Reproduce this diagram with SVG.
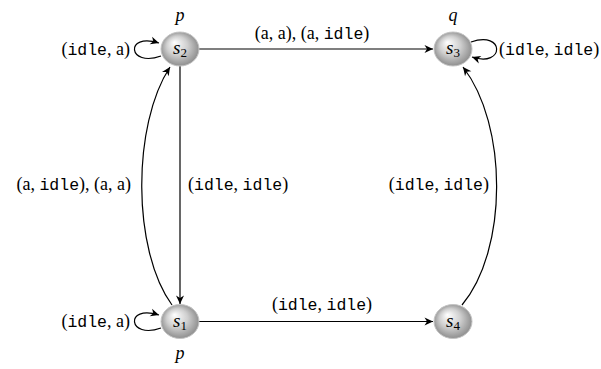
<svg xmlns="http://www.w3.org/2000/svg" width="601" height="369" viewBox="0 0 601 369">
<defs>
<radialGradient id="ball" cx="0.5" cy="0.5" r="0.55" fx="0.35" fy="0.3">
<stop offset="0" stop-color="#ffffff"/>
<stop offset="0.5" stop-color="#cfcfcf"/>
<stop offset="1" stop-color="#858585"/>
</radialGradient>
<marker id="arr" viewBox="-10 -5 11 10" refX="0" refY="0" markerWidth="11" markerHeight="10" markerUnits="userSpaceOnUse" orient="auto">
<path d="M0,0 L-8.5,-4 L-6,0 L-8.5,4 Z" fill="#000"/>
</marker>
</defs>
<style>
.edge{fill:none;stroke:#000;stroke-width:1.2;marker-end:url(#arr)}
.ball{fill:url(#ball);stroke:#c4c4c4;stroke-width:1}
text{font-family:"Liberation Serif",serif;font-size:18px;fill:#000}
.m{font-family:"Liberation Mono",monospace;font-size:16.5px}
.it{font-style:italic}
.nl{font-size:19px}
.sub{font-size:13px;font-style:normal}
</style>
<rect width="601" height="369" fill="#fff"/>
<g id="connectors">
<path class="edge" d="M199,49 L433,49"/>
<path class="edge" d="M180,66 L180,304"/>
<path class="edge" d="M172,305 C132,250 132,125 170,67"/>
<path class="edge" d="M199,321.5 L433,321.5"/>
<path class="edge" d="M462,305 C508,250 508,125 463,67"/>
<path class="edge" d="M161,56 C128,68 124,32 159,43"/>
<path class="edge" d="M161,328 C128,340 124,304 159,315"/>
<path class="edge" d="M471,42 C505,30 505,68 472,57"/>
<text x="130" y="55" text-anchor="end">(<tspan class="m">idle</tspan>, a)</text>
<text x="130" y="327" text-anchor="end">(<tspan class="m">idle</tspan>, a)</text>
<text x="499" y="55">(<tspan class="m">idle</tspan>, <tspan class="m">idle</tspan>)</text>
<text x="312" y="39" text-anchor="middle">(a, a), (a, <tspan class="m">idle</tspan>)</text>
<text x="188" y="190">(<tspan class="m">idle</tspan>, <tspan class="m">idle</tspan>)</text>
<text x="131" y="190" text-anchor="end">(a, <tspan class="m">idle</tspan>), (a, a)</text>
<text x="489" y="190" text-anchor="end">(<tspan class="m">idle</tspan>, <tspan class="m">idle</tspan>)</text>
<text x="322" y="310" text-anchor="middle">(<tspan class="m">idle</tspan>, <tspan class="m">idle</tspan>)</text>
</g>
<g id="s2">
<ellipse class="ball" cx="180" cy="49" rx="19" ry="17"/>
<text class="it nl" x="180" y="54" text-anchor="middle">s<tspan class="sub" dy="3">2</tspan></text>
<text class="it" x="180" y="21" text-anchor="middle">p</text>
</g>
<g id="s3">
<ellipse class="ball" cx="453" cy="49" rx="19" ry="17"/>
<text class="it nl" x="453" y="54" text-anchor="middle">s<tspan class="sub" dy="3">3</tspan></text>
<text class="it" x="453" y="21" text-anchor="middle">q</text>
</g>
<g id="s1">
<ellipse class="ball" cx="180" cy="321.5" rx="19" ry="17"/>
<text class="it nl" x="180" y="326.5" text-anchor="middle">s<tspan class="sub" dy="3">1</tspan></text>
<text class="it" x="180" y="359" text-anchor="middle">p</text>
</g>
<g id="s4">
<ellipse class="ball" cx="453" cy="321.5" rx="19" ry="17"/>
<text class="it nl" x="453" y="326.5" text-anchor="middle">s<tspan class="sub" dy="3">4</tspan></text>
</g>
</svg>
